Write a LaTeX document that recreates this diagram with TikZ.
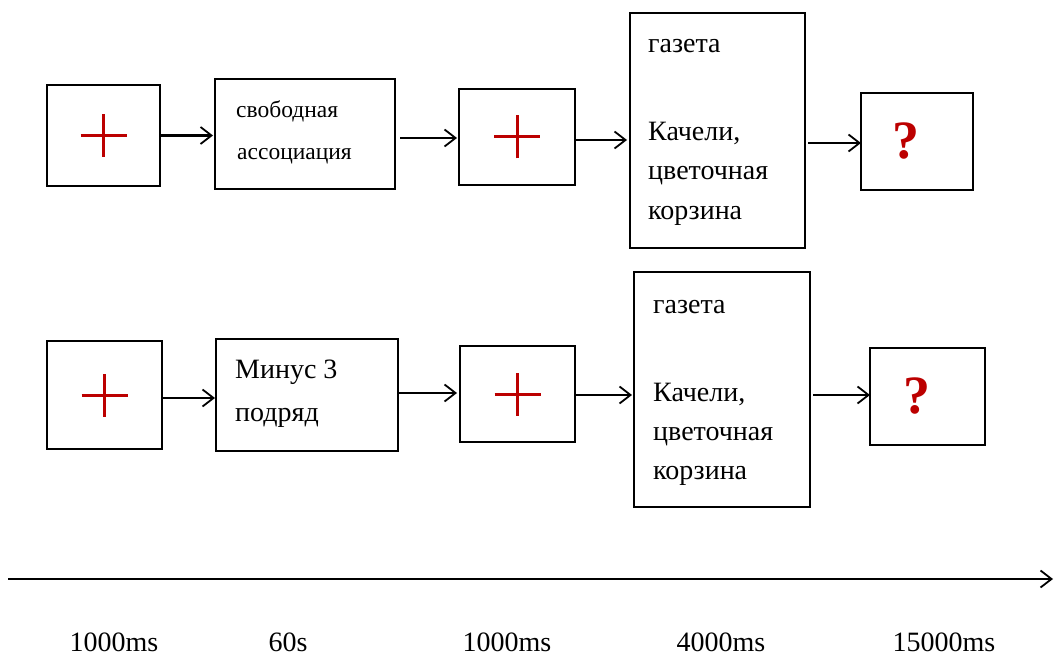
\documentclass[tikz,border=0pt]{standalone}
\usepackage{fontspec}
\setmainfont{Liberation Serif}
\usetikzlibrary{arrows.meta}
\definecolor{crossred}{HTML}{BC0000}
\newcommand\crossat[1]{\draw[crossline] ([xshift=-23pt]#1.center) -- ([xshift=23pt]#1.center) ([yshift=-21.5pt]#1.center) -- ([yshift=21.5pt]#1.center);}
\tikzset{
  stimbox/.style={draw, line width=1.8pt, inner sep=0pt, outer sep=0pt, fill=white},
  txt/.style={anchor=base west, inner sep=0pt, font=\fontsize{28}{32}\selectfont},
  smalltxt/.style={anchor=base west, inner sep=0pt, font=\fontsize{23.5}{28}\selectfont},
  lbl/.style={anchor=base, inner sep=0pt, font=\fontsize{28}{32}\selectfont},
  qmark/.style={inner sep=0pt, text=crossred, font=\fontsize{54}{60}\selectfont\bfseries},
  crossline/.style={draw=crossred, line width=3pt},
  flow/.style={line width=2.8pt, -{Straight Barb[length=11pt,width=17pt,line width=1.8pt]}},
}
\begin{document}
\begin{tikzpicture}[x=1pt,y=-1pt]
\useasboundingbox[fill=white] (0,0) rectangle (1054,655);

% ---------- row 1 ----------
\node[stimbox, minimum width=113pt, minimum height=101pt] (A1) at (103.5,135.5) {};
\node[stimbox, minimum width=180pt, minimum height=110pt] (A2) at (305,134) {};
\node[stimbox, minimum width=116pt, minimum height=96pt] (A3) at (517,137) {};
\node[stimbox, minimum width=175pt, minimum height=235pt] (A4) at (717.5,130.5) {};
\node[stimbox, minimum width=112pt, minimum height=97pt] (A5) at (917,141.5) {};

\crossat{A1}
\crossat{A3}
\node[smalltxt] (a2t1) at (236,118) {свободная};
\node[smalltxt] (a2t2) at (237,160) {ассоциация};
\node[txt] (a4t1) at (648,53) {газета};
\node[txt] (a4t2) at (648,141) {Качели,};
\node[txt] (a4t3) at (648,180) {цветочная};
\node[txt] (a4t4) at (648,219) {корзина};
\node[qmark] (a5q) at ([xshift=-11pt]A5.center) {?};

\draw[flow, shorten >=2pt] (A1.east) -- (A1.east -| A2.west);
\draw[flow, shorten <=5pt, shorten >=2pt] (A2.east |- 0,138) -- (A3.west |- 0,138);
\draw[flow, shorten >=3pt] (A3.east |- 0,140) -- (A4.west |- 0,140);
\draw[flow, shorten <=3pt] (A4.east |- 0,143) -- (A5.west |- 0,143);

% ---------- row 2 ----------
\node[stimbox, minimum width=115pt, minimum height=108pt] (B1) at (104.5,395) {};
\node[stimbox, minimum width=182pt, minimum height=112pt] (B2) at (307,395) {};
\node[stimbox, minimum width=115pt, minimum height=96pt] (B3) at (517.5,394) {};
\node[stimbox, minimum width=176pt, minimum height=235pt] (B4) at (722,389.5) {};
\node[stimbox, minimum width=115pt, minimum height=97pt] (B5) at (927.5,396.5) {};

\crossat{B1}
\crossat{B3}
\node[txt] (b2t1) at (235,378) {Минус 3};
\node[txt] (b2t2) at (235,421) {подряд};
\node[txt] (b4t1) at (653,313) {газета};
\node[txt] (b4t2) at (653,401) {Качели,};
\node[txt] (b4t3) at (653,440) {цветочная};
\node[txt] (b4t4) at (653,479) {корзина};
\node[qmark] (b5q) at ([xshift=-11pt]B5.center) {?};

\draw[flow, shorten >=1pt] (B1.east |- 0,398) -- (B2.west |- 0,398);
\draw[flow, shorten >=3pt] (B2.east |- 0,393) -- (B3.west |- 0,393);
\draw[flow, shorten >=2pt] (B3.east |- 0,395) -- (B4.west |- 0,395);
\draw[flow, shorten <=3pt] (B4.east |- 0,395) -- (B5.west |- 0,395);

% ---------- time axis ----------
\coordinate (ax0) at (8,579);
\coordinate (ax1) at (1053,579);
\draw[flow] (ax0) -- (ax1);
\node[lbl] (l1) at (114,651) {1000ms};
\node[lbl] (l2) at (288,651) {60s};
\node[lbl] (l3) at (507,651) {1000ms};
\node[lbl] (l4) at (721,651) {4000ms};
\node[lbl] (l5) at (944,651) {15000ms};
\end{tikzpicture}
\end{document}
